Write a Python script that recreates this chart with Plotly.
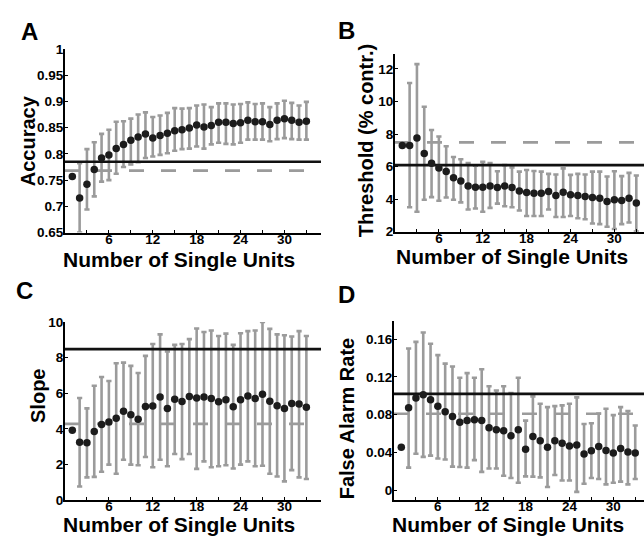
import plotly.graph_objects as go

# ---------------- data ----------------
units = list(range(1, 34))

acc_mean = [0.757, 0.716, 0.742, 0.770, 0.792, 0.798, 0.810, 0.818, 0.826, 0.832, 0.838,
            0.830, 0.835, 0.839, 0.844, 0.846, 0.849, 0.855, 0.851, 0.854, 0.860, 0.860,
            0.858, 0.859, 0.864, 0.861, 0.861, 0.856, 0.864, 0.867, 0.864, 0.860, 0.862]
acc_hi = [0.757, 0.782, 0.809, 0.822, 0.838, 0.846, 0.861, 0.862, 0.867, 0.875, 0.879,
          0.870, 0.873, 0.878, 0.887, 0.886, 0.887, 0.892, 0.894, 0.889, 0.896, 0.896,
          0.894, 0.895, 0.898, 0.895, 0.896, 0.889, 0.896, 0.901, 0.897, 0.892, 0.899]
acc_lo = [0.757, 0.650, 0.694, 0.719, 0.747, 0.750, 0.762, 0.775, 0.780, 0.784, 0.792,
          0.795, 0.798, 0.801, 0.806, 0.809, 0.810, 0.814, 0.810, 0.818, 0.821, 0.819,
          0.818, 0.821, 0.827, 0.827, 0.827, 0.824, 0.828, 0.830, 0.828, 0.827, 0.827]
acc_solid = 0.785
acc_dashed = 0.768

thr_mean = [7.29, 7.29, 7.75, 6.81, 6.21, 5.91, 5.69, 5.31, 5.11, 4.81, 4.73,
            4.73, 4.81, 4.71, 4.81, 4.71, 4.50, 4.40, 4.36, 4.36, 4.46, 4.22,
            4.42, 4.26, 4.22, 4.16, 4.10, 4.06, 3.86, 3.96, 3.92, 4.06, 3.76]
thr_hi = [7.29, 11.14, 12.30, 9.68, 8.25, 7.85, 7.25, 6.59, 6.45, 6.21, 6.05,
          6.29, 6.21, 5.71, 6.09, 5.95, 5.69, 5.79, 5.73, 5.69, 5.55, 5.51,
          5.89, 5.49, 5.55, 5.51, 5.69, 5.69, 5.39, 5.71, 5.41, 5.61, 5.45]
thr_lo = [7.29, 3.50, 3.22, 3.96, 4.12, 3.90, 4.10, 3.96, 3.80, 3.36, 3.42,
          3.22, 3.46, 3.72, 3.56, 3.50, 3.30, 2.96, 2.96, 2.96, 3.36, 2.90,
          2.90, 2.96, 2.82, 2.76, 2.50, 2.46, 2.30, 2.16, 2.46, 2.56, 2.00]
thr_solid = 6.09
thr_dashed = 7.49

slope_mean = [3.92, 3.25, 3.22, 3.85, 4.25, 4.38, 4.59, 4.99, 4.79, 4.54, 5.26,
              5.28, 5.79, 5.15, 5.66, 5.53, 5.82, 5.73, 5.79, 5.70, 5.52, 5.64,
              5.24, 5.64, 5.84, 5.70, 5.95, 5.55, 5.30, 5.15, 5.42, 5.39, 5.21]
slope_hi = [3.92, 5.73, 5.15, 6.42, 6.91, 6.69, 7.69, 7.72, 7.54, 7.14, 8.10,
            8.77, 9.31, 8.35, 8.72, 8.77, 9.04, 9.64, 9.44, 9.53, 9.22, 9.35,
            8.72, 9.37, 9.49, 9.53, 10.0, 9.62, 9.31, 9.26, 9.19, 9.49, 9.22]
slope_lo = [3.92, 0.76, 1.27, 1.30, 1.59, 1.99, 1.48, 2.26, 1.99, 1.95, 2.42,
            1.84, 2.26, 1.90, 2.59, 2.30, 2.59, 1.75, 2.17, 1.84, 1.90, 1.95,
            1.77, 1.99, 2.17, 1.90, 1.93, 1.48, 1.32, 1.05, 1.68, 1.27, 1.18]
slope_solid = 8.48
slope_dashed = 4.28

fa_mean = [0.0456, 0.0874, 0.0976, 0.101, 0.0959, 0.089, 0.0832, 0.0781, 0.0719, 0.0737, 0.0747,
           0.0737, 0.0661, 0.0641, 0.063, 0.0576, 0.0641, 0.0435, 0.0569, 0.0524, 0.0456, 0.0524,
           0.0497, 0.0469, 0.048, 0.0384, 0.0418, 0.0462, 0.0421, 0.0394, 0.0442, 0.0404, 0.0394]
fa_hi = [0.0456, 0.150, 0.157, 0.167, 0.155, 0.143, 0.134, 0.131, 0.119, 0.124, 0.119,
         0.128, 0.110, 0.1055, 0.110, 0.103, 0.119, 0.0737, 0.0993, 0.0915, 0.088, 0.089,
         0.0898, 0.0915, 0.0983, 0.0702, 0.0709, 0.0812, 0.0863, 0.0795, 0.088, 0.0839, 0.0685]
fa_lo = [0.0456, 0.024, 0.0387, 0.0353, 0.0367, 0.0336, 0.0325, 0.025, 0.0247, 0.024, 0.0319,
         0.0195, 0.023, 0.023, 0.0154, 0.013, 0.0079, 0.0147, 0.0144, 0.0137, 0.0034, 0.0161,
         0.0103, 0.0103, -0.0017, 0.0069, 0.013, 0.012, 0.0062, 0.0079, 0.0092, 0.0062, 0.012]
fa_solid = 0.102
fa_dashed = 0.081

xtick_vals = [3, 6, 9, 12, 15, 18, 21, 24, 27, 30, 33]
xtick_text = ["", "6", "", "12", "", "18", "", "24", "", "30", ""]

acc_ticks = [0.65, 0.7, 0.75, 0.8, 0.85, 0.9, 0.95, 1.0]
acc_ticktext = ["0.65", "0.7", "0.75", "0.8", "0.85", "0.9", "0.95", "1"]
thr_ticks = [2, 4, 6, 8, 10, 12]
slope_ticks = [0, 2, 4, 6, 8, 10]
fa_ticks = [0, 0.04, 0.08, 0.12, 0.16]
fa_ticktext = ["0", "0.04", "0.08", "0.12", "0.16"]

x_title = "Number of Single Units"
y_titles = ["Accuracy", "Threshold (% contr.)", "Slope", "False Alarm Rate"]
letters = ["A", "B", "C", "D"]

# ---------------- style ----------------
W, H = 644, 544
FONT = "Liberation Sans, Arial, Helvetica, sans-serif"
GRAY = "#9b9b9b"
DOT = "#1c1c1c"

fig = go.Figure()

panels = [
    dict(mean=acc_mean, hi=acc_hi, lo=acc_lo, solid=acc_solid, dashed=acc_dashed,
         xpx=(65, 321), ypx=(43, 232), xr=(0, 35), yr=(0.65, 1.0),
         yt=acc_ticks, ytt=acc_ticktext),
    dict(mean=thr_mean, hi=thr_hi, lo=thr_lo, solid=thr_solid, dashed=thr_dashed,
         xpx=(395, 644), ypx=(48, 231), xr=(0, 34.05), yr=(2, 12.94),
         yt=thr_ticks, ytt=[str(v) for v in thr_ticks]),
    dict(mean=slope_mean, hi=slope_hi, lo=slope_lo, solid=slope_solid, dashed=slope_dashed,
         xpx=(65, 321), ypx=(324, 507), xr=(0, 35), yr=(0, 10),
         yt=slope_ticks, ytt=[str(v) for v in slope_ticks]),
    dict(mean=fa_mean, hi=fa_hi, lo=fa_lo, solid=fa_solid, dashed=fa_dashed,
         xpx=(394, 644), ypx=(323, 507), xr=(0, 34.2), yr=(-0.0103, 0.179),
         yt=fa_ticks, ytt=fa_ticktext),
]

layout_axes = {}
for i, p in enumerate(panels):
    k = "" if i == 0 else str(i + 1)
    xa, ya = "x" + k, "y" + k
    # error bars (points 2..33)
    ex = units[1:]
    em = p["mean"][1:]
    fig.add_trace(go.Scatter(
        x=ex, y=em, mode="markers", xaxis=xa, yaxis=ya, showlegend=False,
        marker=dict(size=1, color="rgba(0,0,0,0)"),
        error_y=dict(type="data", symmetric=False,
                     array=[h - m for h, m in zip(p["hi"][1:], em)],
                     arrayminus=[m - l for m, l in zip(em, p["lo"][1:])],
                     color=GRAY, thickness=2.6, width=2.6),
        hoverinfo="skip"))
    # reference lines
    fig.add_trace(go.Scatter(
        x=[p["xr"][0], p["xr"][1]], y=[p["dashed"], p["dashed"]], mode="lines",
        xaxis=xa, yaxis=ya, showlegend=False,
        line=dict(color=GRAY, width=2.6, dash="15px,17px")))
    fig.add_trace(go.Scatter(
        x=[p["xr"][0], p["xr"][1]], y=[p["solid"], p["solid"]], mode="lines",
        xaxis=xa, yaxis=ya, showlegend=False,
        line=dict(color="#111111", width=2.6)))
    # dots
    fig.add_trace(go.Scatter(
        x=units, y=p["mean"], mode="markers", xaxis=xa, yaxis=ya, showlegend=False,
        marker=dict(size=7.5, color=DOT, line=dict(width=0))))

    common = dict(showline=True, linecolor="black", linewidth=2, showgrid=False,
                  zeroline=False, ticks="inside", ticklen=3, tickwidth=1.3,
                  tickcolor="black",
                  tickfont=dict(family=FONT, size=13.5, color="black", weight="bold"))
    layout_axes["xaxis" + k] = dict(
        domain=[p["xpx"][0] / W, p["xpx"][1] / W], range=list(p["xr"]),
        anchor=ya, tickmode="array", tickvals=xtick_vals, ticktext=xtick_text,
        ticklabelstandoff=-7, **common)
    layout_axes["yaxis" + k] = dict(
        domain=[1 - p["ypx"][1] / H, 1 - p["ypx"][0] / H], range=list(p["yr"]),
        anchor=xa, tickmode="array", tickvals=p["yt"], ticktext=p["ytt"],
        ticklabelstandoff=-3, **common)

annotations = []
xt_pos = [(179, 260), (512, 257), (179, 532), (508, 532)]
yt_pos = [(28, 138), (366, 138), (38, 400), (347, 423)]
letter_pos = [(29, 25), (346, 24), (25, 292), (346, 296)]
for i in range(4):
    annotations.append(dict(text=x_title, x=xt_pos[i][0] / W, y=1 - xt_pos[i][1] / H,
                            xref="paper", yref="paper", showarrow=False,
                            xanchor="center", yanchor="middle",
                            font=dict(family=FONT, size=21, color="black", weight="bold")))
    annotations.append(dict(text=y_titles[i], x=yt_pos[i][0] / W, y=1 - yt_pos[i][1] / H,
                            xref="paper", yref="paper", showarrow=False, textangle=-90,
                            xanchor="center", yanchor="middle",
                            font=dict(family=FONT, size=20, color="black", weight="bold")))
    annotations.append(dict(text=letters[i], x=letter_pos[i][0] / W, y=1 - letter_pos[i][1] / H,
                            xref="paper", yref="paper", showarrow=False,
                            xanchor="center", yanchor="middle",
                            font=dict(family=FONT, size=24, color="black", weight="bold")))

fig.update_layout(width=W, height=H, margin=dict(l=0, r=0, t=0, b=0),
                  paper_bgcolor="white", plot_bgcolor="white",
                  annotations=annotations, **layout_axes)

fig.write_html("out.html")
